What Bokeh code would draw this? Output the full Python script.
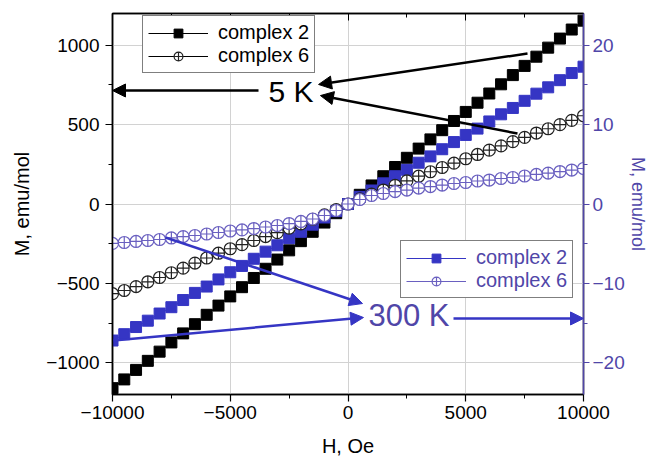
from bokeh.plotting import figure
from bokeh.models import (Range1d, LinearAxis, SingleIntervalTicker, Legend, LegendItem,
                          Arrow, NormalHead, Label, CustomJSTickFormatter)
from bokeh.embed import file_html
from bokeh.resources import INLINE

# ---------------- data ----------------
H = [-10000, -9500, -9000, -8500, -8000, -7500, -7000, -6500, -6000, -5500, -5000,
     -4500, -4000, -3500, -3000, -2500, -2000, -1500, -1000, -500, 0,
     500, 1000, 1500, 2000, 2500, 3000, 3500, 4000, 4500, 5000,
     5500, 6000, 6500, 7000, 7500, 8000, 8500, 9000, 9500, 10000]

# 5 K, left axis (emu/mol)
m2_5K = [-1160, -1105, -1045, -988, -930, -872, -815, -757, -698, -640, -582,
         -524, -466, -408, -350, -292, -234, -175, -117, -58, 0,
         58, 117, 175, 233, 291, 349, 407, 465, 523, 580,
         638, 696, 754, 812, 870, 928, 985, 1042, 1099, 1155]
m6_5K = [-565, -545, -520, -490, -463, -433, -404, -372, -340, -310, -282,
         -256, -230, -205, -180, -152, -125, -97, -68, -36, 0,
         32, 62, 88, 117, 146, 175, 203, 230, 257, 285,
         312, 339, 366, 393, 420, 447, 474, 500, 527, 556]

# 300 K, right axis (emu/mol)
m2_300K = [-17.2, -16.4, -15.5, -14.7, -13.8, -13.0, -12.1, -11.2, -10.4, -9.5, -8.6,
           -7.8, -6.9, -6.0, -5.2, -4.3, -3.5, -2.6, -1.7, -0.9, 0.0,
           0.9, 1.7, 2.6, 3.5, 4.3, 5.2, 6.0, 6.9, 7.8, 8.7,
           9.5, 10.4, 11.3, 12.1, 13.0, 13.9, 14.7, 15.6, 16.5, 17.3]
m6_300K = [-4.97, -4.85, -4.72, -4.60, -4.47, -4.28, -4.10, -3.97, -3.78, -3.59, -3.40,
           -3.27, -3.09, -2.90, -2.71, -2.46, -2.20, -1.89, -1.45, -0.82, 0.0,
           0.57, 1.07, 1.32, 1.57, 1.76, 2.01, 2.20, 2.39, 2.58, 2.71,
           2.90, 3.02, 3.21, 3.34, 3.53, 3.72, 3.90, 4.09, 4.28, 4.47]

labels = ["complex 2", "complex 6"]

BLUE = "#3535c4"
BLUE_TXT = "#5046a8"
BLUE_CIRC = "#6a60c0"
FONT = "Liberation Sans"

p = figure(width=652, height=463, output_backend="svg", toolbar_location=None,
           x_range=Range1d(-10000, 10000), y_range=Range1d(-1200, 1200),
           min_border_left=112, min_border_right=69, min_border_top=13,
           min_border_bottom=69, background_fill_color="white")
p.extra_y_ranges = {"r": Range1d(-24, 24)}

p.outline_line_color = "black"
p.outline_line_width = 1.5
p.xgrid.grid_line_color = "#d2d2d2"
p.ygrid.grid_line_color = "#d2d2d2"

def style_axis(ax, color="black"):
    ax.axis_line_color = color
    ax.axis_line_width = 1.5
    ax.major_tick_line_color = color
    ax.minor_tick_line_color = color
    ax.major_tick_line_width = 1.2
    ax.major_tick_out = 7
    ax.major_tick_in = 0
    ax.minor_tick_out = 4
    ax.minor_tick_in = 0
    ax.major_label_text_font = FONT
    ax.major_label_text_font_size = "19px"
    ax.major_label_text_color = color
    ax.axis_label_text_font = FONT
    ax.axis_label_text_font_size = "20px"
    ax.axis_label_text_font_style = "normal"
    ax.axis_label_text_color = color

xa = p.xaxis[0]
xa.ticker = SingleIntervalTicker(interval=5000, num_minor_ticks=2)
xa.axis_label = "H, Oe"
style_axis(xa)
xa.major_label_standoff = 4
xa.axis_label_standoff = 13

ya = p.yaxis[0]
ya.ticker = SingleIntervalTicker(interval=500, num_minor_ticks=2)
ya.axis_label = "M, emu/mol"
style_axis(ya)
ya.major_label_standoff = 6
ya.axis_label_standoff = 10
p.xgrid.ticker = xa.ticker
p.ygrid.ticker = ya.ticker

ra = LinearAxis(y_range_name="r", ticker=SingleIntervalTicker(interval=10, num_minor_ticks=2),
                axis_label="M, emu/mol")
style_axis(ra, BLUE_TXT)
ra.major_tick_out = 6
ra.major_label_text_font_size = "19px"
ra.axis_label_text_font_size = "18px"
ra.major_label_standoff = 3
ra.axis_label_standoff = 0
p.add_layout(ra, "right")

ta = LinearAxis(ticker=SingleIntervalTicker(interval=5000, num_minor_ticks=2),
                formatter=CustomJSTickFormatter(code="return ''"))
ta.major_label_standoff = 0
ta.axis_line_width = 1.5
ta.major_tick_in = 7
ta.major_tick_out = 0
ta.minor_tick_in = 4
ta.minor_tick_out = 0
p.add_layout(ta, "above")

# ---------------- series ----------------
l2a = p.line(H, m2_5K, color="black", line_width=1)
s2a = p.scatter(H, m2_5K, marker="square", size=11, color="black")
l2b = p.line(H, m2_300K, color=BLUE, line_width=1, y_range_name="r")
s2b = p.scatter(H, m2_300K, marker="square", size=11, color=BLUE, y_range_name="r")
l6a = p.line(H, m6_5K, color="black", line_width=1)
s6a = p.scatter(H, m6_5K, marker="circle_cross", size=12, line_color="#222222",
                fill_color="white", line_width=1.2)
l6b = p.line(H, m6_300K, color=BLUE_CIRC, line_width=1, y_range_name="r")
s6b = p.scatter(H, m6_300K, marker="circle_cross", size=12, line_color=BLUE_CIRC,
                fill_color="white", line_width=1.2, y_range_name="r")

def make_legend(items, loc, color):
    lg = Legend(items=items, location=loc)
    lg.label_text_font = FONT
    lg.label_text_font_size = "20px"
    lg.label_text_color = color
    lg.glyph_width = 60
    lg.glyph_height = 22
    lg.label_standoff = 10
    lg.padding = 5
    lg.spacing = 0
    lg.margin = 0
    lg.border_line_color = "black"
    lg.border_line_width = 1.5
    lg.background_fill_alpha = 1
    return lg

leg1 = make_legend([LegendItem(label=labels[0], renderers=[l2a, s2a]),
                    LegendItem(label=labels[1], renderers=[l6a, s6a])], (30, 321), "black")
leg2 = make_legend([LegendItem(label=labels[0], renderers=[l2b, s2b]),
                    LegendItem(label=labels[1], renderers=[l6b, s6b])], (288, 96), BLUE_TXT)
p.add_layout(leg1)
p.add_layout(leg2)

# ---------------- annotations ----------------
def arrow(x0, y0, x1, y1, color):
    a = Arrow(end=NormalHead(size=13, fill_color=color, line_color=color),
              x_start=x0, y_start=y0, x_end=x1, y_end=y1,
              line_color=color, line_width=2.5)
    p.add_layout(a)

arrow(-3800, 715, -10000, 715, "black")
arrow(7622, 948, -1250, 753, "black")
arrow(7197, 444, -1170, 683, "black")

arrow(4480, -721, 10000, -721, BLUE)
arrow(-9950, -860, 658, -715, BLUE)
arrow(-7750, -211, 616, -627, BLUE)

p.add_layout(Label(x=-3376, y=708, text="5 K", text_font=FONT, text_font_size="30px",
                   text_baseline="middle", text_color="black"))
p.add_layout(Label(x=870, y=-705, text="300 K", text_font=FONT, text_font_size="31px",
                   text_baseline="middle", text_color=BLUE_TXT))

open("out.html", "w").write(file_html(p, INLINE))
